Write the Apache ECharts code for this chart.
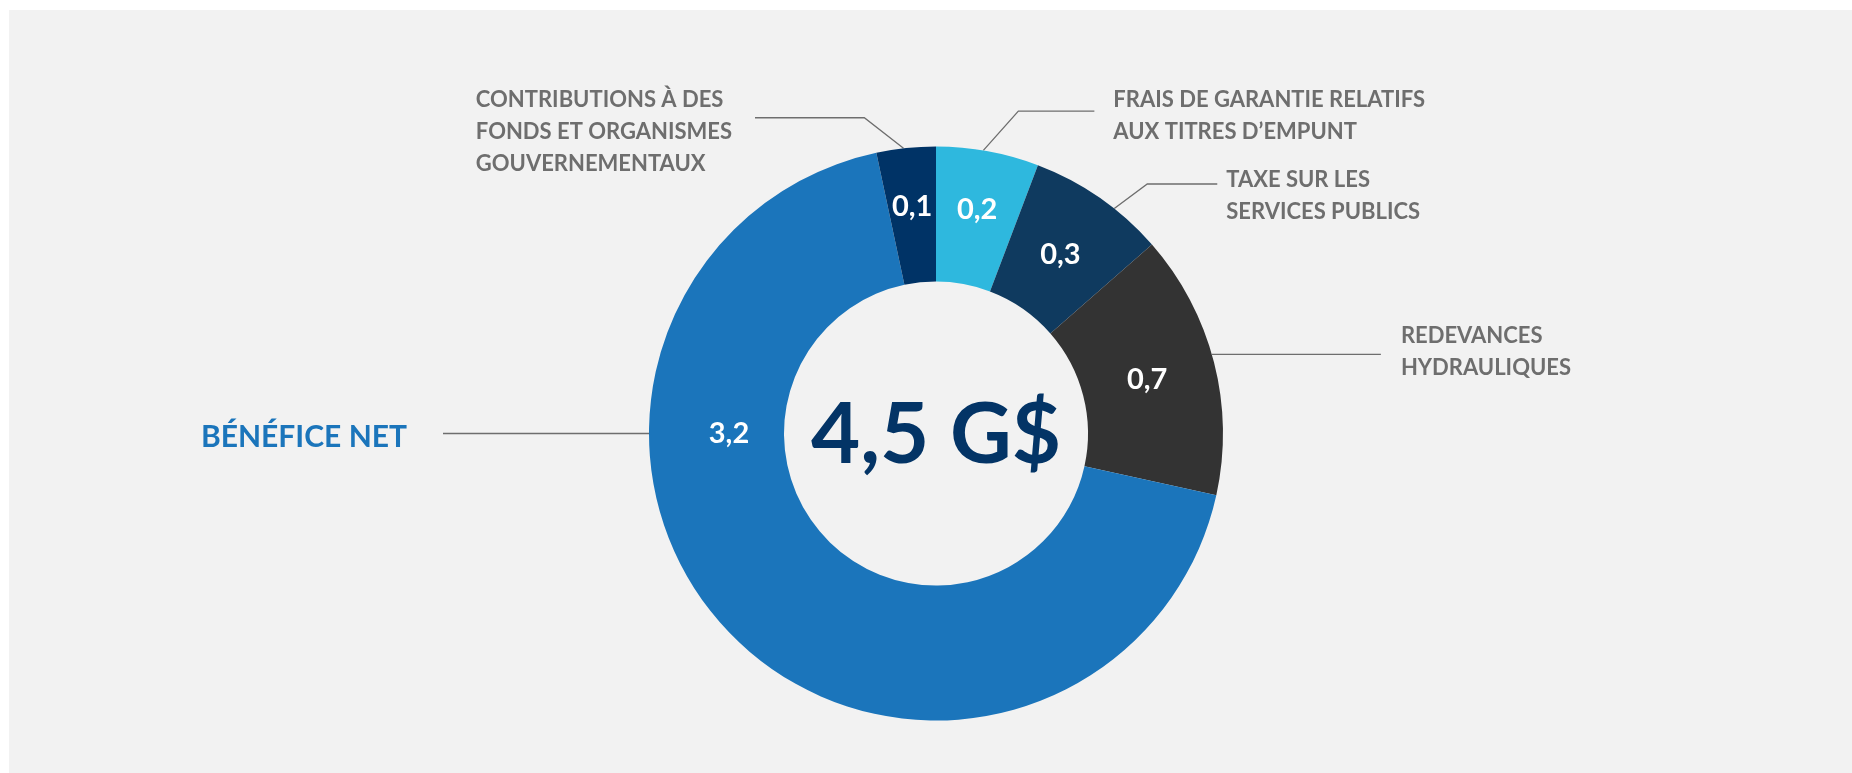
<!DOCTYPE html>
<html>
<head>
<meta charset="utf-8">
<title>Répartition 4,5 G$</title>
<script src="https://cdn.jsdelivr.net/npm/echarts@6/dist/echarts.min.js"></script>
<style>
	html, body { margin: 0; padding: 0; background: #ffffff; }
	#container { position: absolute; left: 9px; top: 10px; width: 1843px; height: 763px; background: #f2f2f2; }
</style>
</head>
<body>
<div id="container"></div>
<script>
// données (sens horaire depuis le haut)
var categories = [
	'FRAIS DE GARANTIE RELATIFS\nAUX TITRES D\u2019EMPUNT',
	'TAXE SUR LES\nSERVICES PUBLICS',
	'REDEVANCES\nHYDRAULIQUES',
	'BÉNÉFICE NET',
	'CONTRIBUTIONS À DES\nFONDS ET ORGANISMES\nGOUVERNEMENTAUX'
];
var values = [0.26, 0.35, 0.67, 3.07, 0.15];
var valueLabels = ['0,2', '0,3', '0,7', '3,2', '0,1'];
var totalLabel = '4,5 G$';

// mise en page
var colors = ['#2eb8de', '#0f3a5f', '#333333', '#1b75bb', '#003366'];
var cx = 927, cy = 423.5, r0 = 152, r1 = 287;
// position des étiquettes de valeur : rayon, et angle forcé (sinon milieu de la tranche)
var valueRadius = [228, 218, 218, 207, 228];
var valueAngle = [null, null, null, 270, null];
// lignes de rappel : angle d'attache, coude, longueur horizontale, écart du texte, décalage vertical
var leaders = [
	{ angle: 9.5,  elbow: [35, -39.4],   len: 76,     gap: 19, dy: 5 },
	{ angle: 38.4, elbow: [33, -24.6],   len: 70,     gap: 9,  dy: 12 },
	{ angle: 74,   elbow: [0, 0],        len: 169,    gap: 20, dy: -2 },
	{ angle: 270,  elbow: [0, 0],        len: -206,   gap: 36, dy: 4 },
	{ angle: -6.5, elbow: [-39.2, -30.6], len: -109.3, gap: 23, dy: 14 }
];

function midAngle(i) {
	var total = 0, before = 0;
	for (var k = 0; k < values.length; k++) {
		total += values[k];
		if (k < i) before += values[k];
	}
	return (before + values[i] / 2) / total * 360;
}
function polar(angle, r) {
	var a = angle * Math.PI / 180;
	return [cx + r * Math.sin(a), cy - r * Math.cos(a)];
}

function main() {
	var dom = document.getElementById("container");
	var myChart = echarts.init(dom);

	var ringData = [], nameData = [];
	for (var i = 0; i < values.length; i++) {
		ringData.push({ value: values[i], name: categories[i], itemStyle: { color: colors[i] } });
		var item = { value: values[i], name: categories[i] };
		if (i === 3) {
			item.label = { color: '#1b75bb', fontSize: 30 };
		}
		nameData.push(item);
	}

	var option = {
		animation: false,
		series: [ {
			type: 'pie',
			center: [cx, cy],
			radius: [r0, r1],
			startAngle: 90,
			clockwise: true,
			silent: true,
			data: ringData,
			label: {
				position: 'inside',
				formatter: function (p) { return valueLabels[p.dataIndex]; },
				color: '#ffffff',
				fontFamily: 'Lato',
				fontWeight: 'bold',
				fontSize: 29
			},
			labelLine: { show: false },
			labelLayout: function (p) {
				var i = p.dataIndex;
				var a = valueAngle[i] != null ? valueAngle[i] : midAngle(i);
				var pt = polar(a, valueRadius[i]);
				return { x: pt[0], y: pt[1], align: 'center', verticalAlign: 'middle' };
			}
		}, {
			type: 'pie',
			center: [cx, cy],
			radius: [r0, r1],
			startAngle: 90,
			clockwise: true,
			silent: true,
			avoidLabelOverlap: false,
			itemStyle: { color: 'rgba(0,0,0,0)' },
			data: nameData,
			label: {
				position: 'outside',
				color: '#6e6e6e',
				fontFamily: 'Lato',
				fontWeight: 'bold',
				fontSize: 22,
				lineHeight: 32
			},
			labelLine: {
				show: true,
				smooth: false,
				lineStyle: { color: '#6e6e6e', width: 1.3 }
			},
			labelLayout: function (p) {
				var L = leaders[p.dataIndex];
				var p0 = polar(L.angle, r1);
				var p1 = [p0[0] + L.elbow[0], p0[1] + L.elbow[1]];
				var p2 = [p1[0] + L.len, p1[1]];
				var x = L.len > 0 ? p2[0] + L.gap : p2[0] - L.gap - p.labelRect.width;
				return {
					x: x,
					y: p2[1] + L.dy,
					align: 'left',
					verticalAlign: 'middle',
					labelLinePoints: [p0, p1, p2]
				};
			}
		} ],
		graphic: [ {
			type: 'text',
			x: cx,
			y: cy + 2,
			silent: true,
			style: {
				text: totalLabel,
				align: 'center',
				verticalAlign: 'middle',
				fill: '#033466',
				fontFamily: 'Lato',
				fontWeight: 'bold',
				fontSize: 85
			}
		} ]
	};
	myChart.setOption(option, true);
}
main();
</script>
</body>
</html>
